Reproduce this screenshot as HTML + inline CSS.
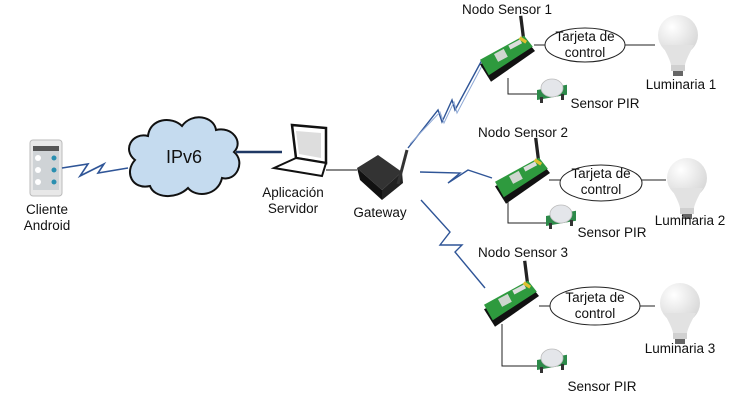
<!DOCTYPE html>
<html><head><meta charset="utf-8"><style>
html,body{margin:0;padding:0;background:#fff;}
svg{display:block;}
text{font-family:"Liberation Sans",Arial,sans-serif;font-size:13.5px;fill:#111;}
</style></head><body>
<svg width="733" height="408" viewBox="0 0 733 408" xmlns="http://www.w3.org/2000/svg">
<defs>
  <g id="board">
    <line x1="40" y1="2" x2="37" y2="-22" stroke="#222" stroke-width="3"/>
    <polygon points="0,22 42,0 50,10 10,38" fill="#111"/>
    <polygon points="0,18 40,-4 48,6 8,32" fill="#2e9a3e"/>
    <rect x="14" y="10" width="10" height="8" fill="#cfd6cf" transform="rotate(-28 19 14)"/>
    <rect x="26" y="2" width="12" height="4" fill="#ddd" transform="rotate(-28 32 4)"/>
    <line x1="36" y1="-2" x2="42" y2="2" stroke="#e0c030" stroke-width="3"/>
  </g>
  <g id="pir">
    <rect x="0" y="10" width="30" height="10" fill="#2d8a4a" transform="skewY(-10)"/>
    <ellipse cx="15" cy="8" rx="11" ry="9" fill="#e4e6ea" stroke="#bbb" stroke-width="0.8"/>
    <rect x="3" y="17" width="3" height="6" fill="#333"/>
    <rect x="24" y="14" width="3" height="6" fill="#333"/>
  </g>
  <radialGradient id="bg" cx="0.35" cy="0.3" r="0.8">
    <stop offset="0" stop-color="#fff"/><stop offset="1" stop-color="#d4d4d4"/>
  </radialGradient>
  <g id="bulb">
    <ellipse cx="20" cy="20" rx="20" ry="20" fill="url(#bg)"/>
    <path d="M4,30 Q12,44 13,50 L27,50 Q28,44 36,30 Z" fill="#e2e2e2"/>
    <rect x="13" y="50" width="14" height="6" fill="#d0d0d0"/>
    <rect x="15" y="56" width="10" height="5" fill="#666"/>
  </g>
</defs>

<!-- phone -->
<rect x="30" y="140" width="32" height="56" rx="3" fill="#e8e8e8" stroke="#bbb"/>
<rect x="33" y="146" width="26" height="44" fill="#cfd3d6"/>
<rect x="33" y="146" width="26" height="5" fill="#555"/>
<circle cx="38" cy="158" r="3" fill="#fff"/><circle cx="54" cy="158" r="2.5" fill="#2a8fb0"/>
<circle cx="38" cy="170" r="3" fill="#fff"/><circle cx="54" cy="170" r="2.5" fill="#2a8fb0"/>
<circle cx="38" cy="182" r="3" fill="#fff"/><circle cx="54" cy="182" r="2.5" fill="#2a8fb0"/>
<text x="47" y="214" text-anchor="middle">Cliente</text>
<text x="47" y="230" text-anchor="middle">Android</text>

<polyline points="62,168 88,164 80,176 104,164 98,173 128,168" fill="none" stroke="#2f5597" stroke-width="1.6"/>

<!-- cloud -->
<path d="M135,160 C122,150 132,132 148,136 C150,118 172,116 182,126 C192,112 214,116 216,130 C232,126 244,142 234,152 C246,162 236,182 222,178 C218,196 196,198 188,188 C176,200 154,198 150,186 C132,190 124,172 135,160 Z" fill="#c5dbef" stroke="#111" stroke-width="2"/>
<text x="184" y="163" text-anchor="middle" style="font-size:18px">IPv6</text>

<line x1="236" y1="152" x2="282" y2="152" stroke="#1f3864" stroke-width="2.5"/>

<!-- laptop -->
<polygon points="292,125 326,128 326,163 296,158" fill="#fff" stroke="#111" stroke-width="2.5"/>
<polygon points="296,131 321,133 321,158 299,154" fill="#ddd"/>
<polygon points="296,158 326,163 322,176 274,168" fill="#fff" stroke="#111" stroke-width="2"/>
<text x="293" y="197" text-anchor="middle">Aplicación</text>
<text x="293" y="213" text-anchor="middle">Servidor</text>
<line x1="326" y1="170" x2="357" y2="170" stroke="#111" stroke-width="1"/>

<!-- gateway -->
<polygon points="357,168 378,155 402,172 382,190" fill="#333"/>
<polygon points="357,168 382,190 382,200 360,180" fill="#111"/>
<polygon points="382,190 402,172 403,183 382,200" fill="#222"/>
<line x1="398" y1="184" x2="407" y2="150" stroke="#333" stroke-width="3"/>
<text x="380" y="217" text-anchor="middle">Gateway</text>

<!-- wireless links -->
<polyline points="408,148 438,110 442,122 452,100 455,110 482,60" fill="none" stroke="#2f5597" stroke-width="1.4"/>
<polyline points="410,144 440,112 444,123 454,102 457,113 484,62" fill="none" stroke="#8fa9d6" stroke-width="1"/>
<polyline points="420,172 460,173 448,183 468,170 492,178" fill="none" stroke="#2f5597" stroke-width="1.4"/>
<polyline points="421,200 450,232 440,245 462,245 455,252 485,288" fill="none" stroke="#2f5597" stroke-width="1.4"/>

<!-- node 1 -->
<text x="507" y="14" text-anchor="middle">Nodo Sensor 1</text>
<use href="#board" transform="translate(480,40) scale(1.1)"/>
<line x1="534" y1="45" x2="545" y2="45" stroke="#222"/>
<ellipse cx="585" cy="45" rx="40" ry="17" fill="#fff" stroke="#222"/>
<text x="585" y="41" text-anchor="middle">Tarjeta de</text>
<text x="585" y="57" text-anchor="middle">control</text>
<line x1="625" y1="45" x2="655" y2="45" stroke="#222"/>
<use href="#bulb" x="658" y="15"/>
<text x="681" y="89" text-anchor="middle">Luminaria 1</text>
<polyline points="508,78 508,94 537,94" fill="none" stroke="#222"/>
<use href="#pir" x="537" y="80"/>
<text x="605" y="108" text-anchor="middle">Sensor PIR</text>

<!-- node 2 -->
<text x="523" y="137" text-anchor="middle">Nodo Sensor 2</text>
<use href="#board" transform="translate(495,162) scale(1.1)"/>
<line x1="549" y1="180" x2="561" y2="180" stroke="#222"/>
<ellipse cx="601" cy="183" rx="41" ry="18" fill="#fff" stroke="#222"/>
<text x="601" y="178" text-anchor="middle">Tarjeta de</text>
<text x="601" y="194" text-anchor="middle">control</text>
<line x1="642" y1="180" x2="666" y2="180" stroke="#222"/>
<use href="#bulb" x="667" y="158"/>
<text x="690" y="225" text-anchor="middle">Luminaria 2</text>
<polyline points="508,201 508,223 546,223" fill="none" stroke="#222"/>
<use href="#pir" x="546" y="206"/>
<text x="612" y="237" text-anchor="middle">Sensor PIR</text>

<!-- node 3 -->
<text x="523" y="257" text-anchor="middle">Nodo Sensor 3</text>
<use href="#board" transform="translate(484,285) scale(1.1)"/>
<line x1="539" y1="306" x2="550" y2="306" stroke="#222"/>
<ellipse cx="595" cy="306" rx="45" ry="19" fill="#fff" stroke="#222"/>
<text x="595" y="302" text-anchor="middle">Tarjeta de</text>
<text x="595" y="318" text-anchor="middle">control</text>
<line x1="640" y1="306" x2="655" y2="306" stroke="#222"/>
<use href="#bulb" x="660" y="283"/>
<text x="680" y="353" text-anchor="middle">Luminaria 3</text>
<polyline points="502,324 502,366 537,366" fill="none" stroke="#222"/>
<use href="#pir" x="537" y="350"/>
<text x="602" y="391" text-anchor="middle">Sensor PIR</text>
</svg>
</body></html>
